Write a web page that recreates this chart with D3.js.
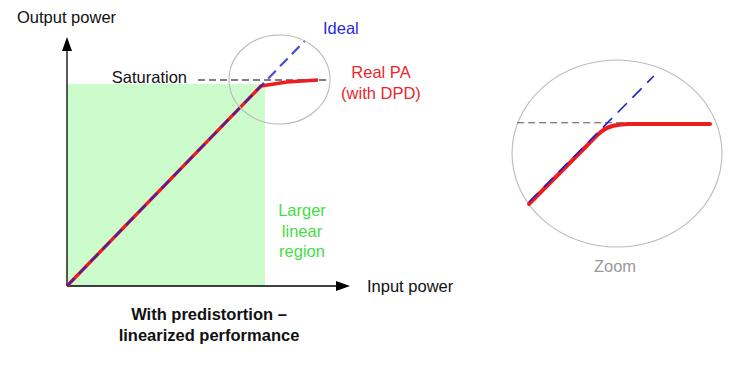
<!DOCTYPE html>
<html>
<head>
<meta charset="utf-8">
<script src="https://cdn.jsdelivr.net/npm/d3@7"></script>
<style>
  body { margin: 0; background: #fff; }
  text { font-family: "Liberation Sans", Arial, sans-serif; }
</style>
</head>
<body>
<div id="chart"></div>
<script>
// main chart data (input power, output power), arbitrary units
const idealLine = [[0, 0], [11.9, 12.27]];
const realPA = [[0, 0], [9.7, 10], [11, 10.2], [12.55, 10.3]];
const saturationLevel = 10.3;
const saturationSpan = [6.55, 13.15];
const linearRegion = { xMax: 9.9, yMax: 10.1 };

// zoom inset data
const zoomIdeal = [[0, 0], [10, 10.08]];
const zoomReal = [[0, -0.16], [4.73, 4.6], [5.5, 5.38], [6.0, 5.78], [6.5, 6.02], [7.2, 6.17], [8.1, 6.24], [14.5, 6.24]];
const zoomSaturation = 6.34;
const zoomSatSpan = [-0.95, 14.5];

const labels = {
    yAxis: "Output power",
    xAxis: "Input power",
    ideal: "Ideal",
    saturation: "Saturation",
    real: ["Real PA", "(with DPD)"],
    region: ["Larger", "linear", "region"],
    caption: ["With predistortion \u2013", "linearized performance"],
    zoom: "Zoom"
};

const width = 753, height = 367;
const red = "#ee1c1c", blue = "#1f1fcc";
const fs = 16.5;

const svg = d3.select("#chart").append("svg")
    .attr("width", width)
    .attr("height", height);

const x = d3.scaleLinear().domain([0, 14.15]).range([67, 350]);
const y = d3.scaleLinear().domain([0, 12.4]).range([286, 38]);

const line = d3.line()
    .x(d => x(d[0]))
    .y(d => y(d[1]));

// green linear region
svg.append("rect")
    .attr("x", x(0))
    .attr("y", y(linearRegion.yMax))
    .attr("width", x(linearRegion.xMax) - x(0))
    .attr("height", y(0) - y(linearRegion.yMax))
    .attr("fill", "#ccfccc");

// axes with arrows
svg.append("line")
    .attr("x1", x(0)).attr("y1", y(0))
    .attr("x2", x(0)).attr("y2", 50)
    .attr("stroke", "#000").attr("stroke-width", 1.3);
svg.append("path")
    .attr("d", `M${x(0)},37 L${x(0) - 5},51 L${x(0) + 5},51 Z`)
    .attr("fill", "#000");
svg.append("line")
    .attr("x1", x(0)).attr("y1", y(0))
    .attr("x2", 337).attr("y2", y(0))
    .attr("stroke", "#000").attr("stroke-width", 1.3);
svg.append("path")
    .attr("d", `M350,${y(0)} L336,${y(0) - 5} L336,${y(0) + 5} Z`)
    .attr("fill", "#000");

// saturation dashed line
svg.append("line")
    .attr("x1", x(saturationSpan[0])).attr("x2", x(saturationSpan[1]))
    .attr("y1", y(saturationLevel)).attr("y2", y(saturationLevel))
    .attr("stroke", "#000").attr("stroke-width", 1.1)
    .attr("stroke-dasharray", "7,4");

// real PA curve
svg.append("path")
    .datum(realPA)
    .attr("d", line)
    .attr("fill", "none")
    .attr("stroke", red)
    .attr("stroke-width", 3.4)
    .attr("stroke-linejoin", "round");

// ideal dashed line
svg.append("path")
    .datum(idealLine)
    .attr("d", line)
    .attr("fill", "none")
    .attr("stroke", blue)
    .attr("stroke-width", 2.2)
    .attr("stroke-dasharray", "11,6")
    .attr("opacity", 0.8);

// circle marking the zoomed area
svg.append("ellipse")
    .attr("cx", 279.5).attr("cy", 79.5)
    .attr("rx", 50.5).attr("ry", 44.5)
    .attr("fill", "none")
    .attr("stroke", "#bbb").attr("stroke-width", 1.1);

// text labels
svg.append("text").attr("x", 17).attr("y", 23)
    .attr("font-size", fs).attr("fill", "#111").text(labels.yAxis);
svg.append("text").attr("x", 367).attr("y", 292)
    .attr("font-size", fs).attr("fill", "#111").text(labels.xAxis);
svg.append("text").attr("x", 323).attr("y", 34)
    .attr("font-size", fs).attr("fill", "#2b2bd6").text(labels.ideal);
svg.append("text").attr("x", 187).attr("y", 83)
    .attr("text-anchor", "end")
    .attr("font-size", fs).attr("fill", "#111").text(labels.saturation);

svg.append("g").selectAll("text")
    .data(labels.real)
    .join("text")
    .attr("x", 381)
    .attr("y", (d, i) => 78 + i * 21)
    .attr("text-anchor", "middle")
    .attr("font-size", fs)
    .attr("fill", "#e8282a")
    .text(d => d);

svg.append("g").selectAll("text")
    .data(labels.region)
    .join("text")
    .attr("x", 302)
    .attr("y", (d, i) => 216 + i * 20.5)
    .attr("text-anchor", "middle")
    .attr("font-size", fs)
    .attr("fill", "#44dd44")
    .text(d => d);

svg.append("g").selectAll("text")
    .data(labels.caption)
    .join("text")
    .attr("x", 209)
    .attr("y", (d, i) => 320 + i * 21)
    .attr("text-anchor", "middle")
    .attr("font-size", fs)
    .attr("font-weight", "bold")
    .attr("fill", "#111")
    .text(d => d);

// zoom inset
const zx = d3.scaleLinear().domain([0, 14.5]).range([529, 710]);
const zy = d3.scaleLinear().domain([0, 10]).range([202, 77]);

const zline = d3.line()
    .x(d => zx(d[0]))
    .y(d => zy(d[1]))
    .curve(d3.curveMonotoneX);

const inset = svg.append("g");

inset.append("ellipse")
    .attr("cx", 617).attr("cy", 153.5)
    .attr("rx", 105).attr("ry", 93.5)
    .attr("fill", "none")
    .attr("stroke", "#bbb").attr("stroke-width", 1.1);

inset.append("line")
    .attr("x1", zx(zoomSatSpan[0])).attr("x2", zx(zoomSatSpan[1]))
    .attr("y1", zy(zoomSaturation)).attr("y2", zy(zoomSaturation))
    .attr("stroke", "#555").attr("stroke-width", 1.1)
    .attr("stroke-dasharray", "7,4");

inset.append("path")
    .datum(zoomReal)
    .attr("d", zline)
    .attr("fill", "none")
    .attr("stroke", red)
    .attr("stroke-width", 4)
    .attr("stroke-linecap", "round");

inset.append("path")
    .datum(zoomIdeal)
    .attr("d", zline)
    .attr("fill", "none")
    .attr("stroke", blue)
    .attr("stroke-width", 1.6)
    .attr("stroke-dasharray", "13,8");

inset.append("text")
    .attr("x", 615).attr("y", 272)
    .attr("text-anchor", "middle")
    .attr("font-size", fs)
    .attr("fill", "#999")
    .text(labels.zoom);
</script>
</body>
</html>
